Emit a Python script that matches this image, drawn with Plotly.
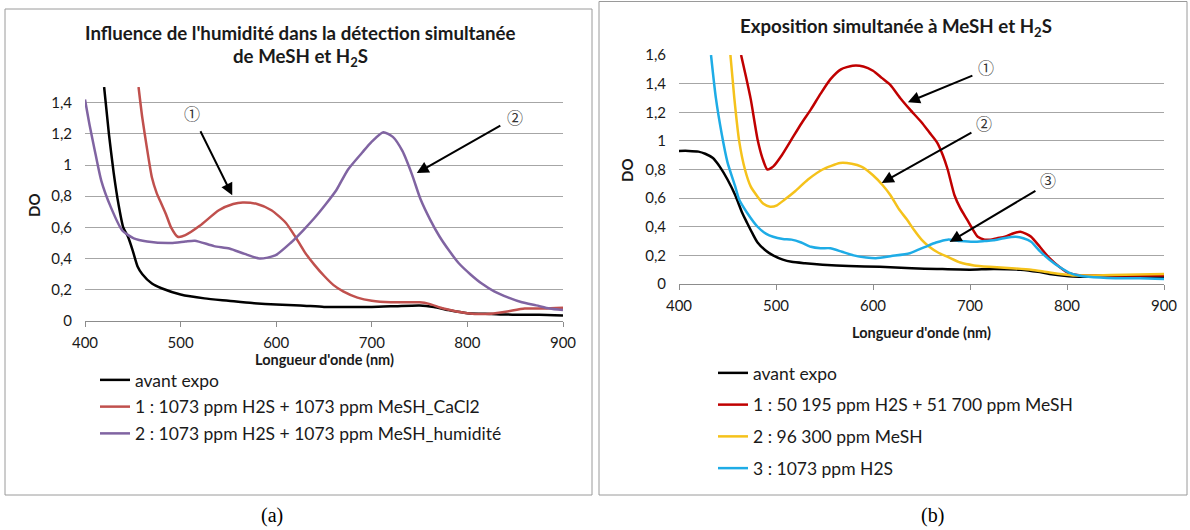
import plotly.graph_objects as go

# ---------------- Panel (a) data ----------------
a_black_x = [420, 425, 430, 435, 440, 445, 450, 455, 460, 470, 480, 500, 525, 550, 575, 600, 625, 650, 675, 700, 725, 750, 765, 780, 800, 825, 850, 875, 900]
a_black_y = [1.50, 1.20, 0.95, 0.75, 0.60, 0.54, 0.45, 0.35, 0.30, 0.24, 0.21, 0.17, 0.145, 0.13, 0.115, 0.105, 0.10, 0.09, 0.09, 0.09, 0.095, 0.10, 0.09, 0.07, 0.05, 0.045, 0.04, 0.04, 0.035]

a_red_x = [456, 460, 465, 470, 475, 480, 485, 490, 497, 505, 520, 540, 555, 565, 580, 595, 610, 620, 630, 640, 650, 660, 670, 685, 700, 720, 740, 750, 760, 775, 800, 820, 840, 860, 880, 900]
a_red_y = [1.50, 1.30, 1.10, 0.92, 0.82, 0.75, 0.68, 0.60, 0.54, 0.55, 0.61, 0.71, 0.75, 0.76, 0.75, 0.71, 0.63, 0.54, 0.44, 0.36, 0.29, 0.23, 0.19, 0.15, 0.13, 0.12, 0.12, 0.12, 0.11, 0.08, 0.05, 0.045, 0.06, 0.08, 0.08, 0.085]

a_purple_x = [400, 405, 410, 417, 427, 439, 451, 465, 490, 505, 515, 535, 551, 567, 583, 599, 615, 628, 640, 652, 663, 675, 690, 700, 712, 722, 732, 742, 751, 761, 771, 781, 791, 803, 815, 828, 843, 857, 872, 886, 900]
a_purple_y = [1.42, 1.25, 1.10, 0.90, 0.73, 0.58, 0.53, 0.51, 0.50, 0.51, 0.515, 0.48, 0.465, 0.43, 0.40, 0.42, 0.50, 0.58, 0.66, 0.75, 0.84, 0.97, 1.08, 1.15, 1.21, 1.18, 1.09, 0.94, 0.78, 0.65, 0.54, 0.45, 0.37, 0.30, 0.24, 0.19, 0.15, 0.12, 0.10, 0.08, 0.07]

a_names = ["avant expo",
           "1 : 1073 ppm H2S + 1073 ppm MeSH_CaCl2",
           "2 : 1073 ppm H2S + 1073 ppm MeSH_humidité"]

# ---------------- Panel (b) data ----------------
b_black_x = [400, 410, 420, 427, 435, 442, 450, 458, 465, 470, 476, 481, 490, 497, 507, 516, 530, 548, 575, 607, 640, 666, 700, 724, 752, 770, 782, 802, 830, 860, 900]
b_black_y = [0.93, 0.93, 0.925, 0.91, 0.88, 0.82, 0.73, 0.62, 0.50, 0.43, 0.35, 0.29, 0.23, 0.20, 0.17, 0.155, 0.145, 0.135, 0.125, 0.12, 0.11, 0.105, 0.10, 0.105, 0.10, 0.085, 0.07, 0.055, 0.05, 0.05, 0.05]

b_red_x = [464, 469, 474, 481, 486, 491, 497, 506, 516, 526, 536, 546, 556, 567, 579, 590, 600, 609, 618, 628, 638, 650, 658, 666, 672, 677, 684, 690, 697, 703, 708, 715, 721, 728, 736, 745, 752, 758, 763, 772, 782, 792, 802, 815, 850, 900]
b_red_y = [1.60, 1.45, 1.29, 1.01, 0.88, 0.80, 0.82, 0.90, 1.01, 1.12, 1.22, 1.33, 1.43, 1.50, 1.525, 1.52, 1.49, 1.44, 1.39, 1.30, 1.22, 1.13, 1.06, 0.99, 0.90, 0.80, 0.62, 0.53, 0.45, 0.38, 0.33, 0.31, 0.31, 0.32, 0.33, 0.355, 0.365, 0.35, 0.33, 0.26, 0.18, 0.12, 0.075, 0.06, 0.06, 0.06]

b_yellow_x = [453, 457, 462, 468, 474, 481, 487, 494, 501, 509, 520, 533, 548, 566, 578, 588, 600, 610, 618, 627, 635, 642, 650, 658, 667, 677, 690, 704, 720, 743, 763, 782, 806, 830, 860, 900]
b_yellow_y = [1.60, 1.30, 1.00, 0.80, 0.68, 0.61, 0.56, 0.54, 0.55, 0.59, 0.65, 0.73, 0.80, 0.845, 0.84, 0.82, 0.76, 0.69, 0.62, 0.52, 0.45, 0.38, 0.31, 0.26, 0.22, 0.19, 0.15, 0.13, 0.12, 0.11, 0.10, 0.08, 0.06, 0.06, 0.065, 0.07]

b_blue_x = [433, 438, 444, 450, 458, 462, 470, 481, 490, 497, 507, 516, 526, 536, 546, 556, 568, 580, 593, 603, 619, 638, 654, 665, 677, 690, 704, 715, 724, 735, 747, 755, 763, 772, 782, 792, 802, 812, 822, 850, 875, 900]
b_blue_y = [1.60, 1.30, 1.05, 0.85, 0.68, 0.59, 0.50, 0.40, 0.35, 0.33, 0.315, 0.31, 0.29, 0.26, 0.25, 0.25, 0.225, 0.20, 0.185, 0.18, 0.195, 0.215, 0.26, 0.29, 0.31, 0.30, 0.295, 0.30, 0.305, 0.32, 0.33, 0.32, 0.295, 0.23, 0.17, 0.12, 0.08, 0.06, 0.05, 0.04, 0.04, 0.035]

b_names = ["avant expo",
           "1 : 50 195 ppm H2S + 51 700 ppm MeSH",
           "2 : 96 300 ppm MeSH",
           "3 : 1073 ppm H2S"]

x_ticks = [400, 500, 600, 700, 800, 900]

FONT = "Lato"
TXT = "#1a1a1a"
GRID = "#a6a6a6"
W, H = 1190, 530

def px(xp):
    return xp / W

def py(yp):
    return 1 - yp / H

fig = go.Figure()

a_series = [(a_black_x, a_black_y, "#000000"),
            (a_red_x, a_red_y, "#c0504d"),
            (a_purple_x, a_purple_y, "#8064a2")]
for i, ((xs, ys, col), nm) in enumerate(zip(a_series, a_names)):
    fig.add_trace(go.Scatter(x=xs, y=ys, mode="lines", name=nm,
                             line=dict(color=col, width=2.5, shape="spline", smoothing=0.6),
                             xaxis="x", yaxis="y", legend="legend",
                             legendgroup="a%d" % i))

b_series = [(b_black_x, b_black_y, "#000000"),
            (b_red_x, b_red_y, "#c00000"),
            (b_yellow_x, b_yellow_y, "#f5c21b"),
            (b_blue_x, b_blue_y, "#1eace6")]
for i, ((xs, ys, col), nm) in enumerate(zip(b_series, b_names)):
    fig.add_trace(go.Scatter(x=xs, y=ys, mode="lines", name=nm,
                             line=dict(color=col, width=2.5, shape="spline", smoothing=0.6),
                             xaxis="x2", yaxis="y2", legend="legend2",
                             legendgroup="b%d" % i))

xax = dict(range=[400, 900], tickvals=x_ticks, showgrid=False, showline=True,
           linecolor="#8c8c8c", linewidth=1, ticks="outside", ticklen=5,
           tickcolor="#8c8c8c", tickfont=dict(family=FONT, size=15, color=TXT),
           zeroline=False, fixedrange=True, automargin=False, ticklabelstandoff=3)
yax = dict(dtick=0.2, showgrid=True, gridcolor=GRID, gridwidth=1, showline=False,
           ticks="", tickfont=dict(family=FONT, size=15, color=TXT), zeroline=False,
           ticklabelstandoff=12, fixedrange=True, automargin=False)

fig.update_layout(
    width=W, height=H, margin=dict(l=0, r=0, t=0, b=0, autoexpand=False),
    paper_bgcolor="white", plot_bgcolor="white",
    separators=", ",
    xaxis=dict(xax, domain=[px(85), px(563)], anchor="y"),
    yaxis=dict(yax, range=[0, 1.5], domain=[py(321), py(87)], anchor="x"),
    xaxis2=dict(xax, domain=[px(679), px(1164)], anchor="y2"),
    yaxis2=dict(yax, range=[0, 1.6], domain=[py(284), py(55)], anchor="x2"),
    legend=dict(x=px(95), y=py(362), xanchor="left", yanchor="top",
                font=dict(family=FONT, size=17.5, color=TXT), bgcolor="rgba(0,0,0,0)",
                tracegroupgap=1, itemwidth=30),
    legend2=dict(x=px(713), y=py(355), xanchor="left", yanchor="top",
                 font=dict(family=FONT, size=17.5, color=TXT), bgcolor="rgba(0,0,0,0)",
                 tracegroupgap=6, itemwidth=30),
    showlegend=True,
)

# panel borders
fig.add_shape(type="rect", xref="paper", yref="paper", x0=px(5), x1=px(592), y0=py(495), y1=py(9),
              line=dict(color="#9a9a9a", width=1), fillcolor="rgba(0,0,0,0)", layer="below")
fig.add_shape(type="rect", xref="paper", yref="paper", x0=px(599), x1=px(1187), y0=py(495), y1=py(1.5),
              line=dict(color="#9a9a9a", width=1), fillcolor="rgba(0,0,0,0)", layer="below")


def note(text, xp, yp, size, family=FONT, bold=False, angle=0, color=TXT):
    return dict(text=("<b>%s</b>" % text) if bold else text, x=px(xp), y=py(yp),
                xref="paper", yref="paper", showarrow=False, textangle=angle,
                xanchor="center", yanchor="middle",
                font=dict(family=family, size=size, color=color))


ann = []
# titles
ann.append(note("Influence de l'humidité dans la détection simultanée", 300, 33, 18.7, bold=True))
ann.append(note("de MeSH et H<sub>2</sub>S", 300, 58, 18.7, bold=True))
ann.append(note("Exposition simultanée à MeSH et H<sub>2</sub>S", 896, 28, 18.7, bold=True))
# axis titles
ann.append(note("Longueur d'onde (nm)", 324, 359, 14.5, bold=True))
ann.append(note("Longueur d'onde (nm)", 921, 332, 14.5, bold=True))
ann.append(note("DO", 34, 205, 15, bold=True, angle=-90))
ann.append(note("DO", 627, 170, 15, bold=True, angle=-90))
# captions
ann.append(note("(a)", 272, 515, 20, family="Liberation Serif", color="#000000"))
ann.append(note("(b)", 932, 515, 20, family="Liberation Serif", color="#000000"))

# circled labels and arrows (data coordinates)
circ_font = dict(family="Noto Sans CJK JP", size=16, color="#333333")
labels = [("①", 512, 1.335, "x", "y"), ("②", 850, 1.31, "x", "y"),
          ("①", 716, 1.517, "x2", "y2"), ("②", 714, 1.126, "x2", "y2"), ("③", 780, 0.727, "x2", "y2")]
for t, xx, yy, xr, yr in labels:
    ann.append(dict(text=t, x=xx, y=yy, xref=xr, yref=yr, showarrow=False, font=circ_font,
                    xanchor="center", yanchor="middle"))

arrows = [(520, 1.226, 554, 0.806, "x", "y"), (836, 1.258, 747, 0.948, "x", "y"),
          (704, 1.46, 636, 1.27, "x2", "y2"), (703, 1.063, 609, 0.706, "x2", "y2"),
          (769, 0.657, 679, 0.294, "x2", "y2")]
for ax_, ay_, hx, hy, xr, yr in arrows:
    ann.append(dict(text="", x=hx, y=hy, ax=ax_, ay=ay_, xref=xr, yref=yr, axref=xr, ayref=yr,
                    showarrow=True, arrowhead=2, arrowsize=1.2, arrowwidth=2, arrowcolor="#000000"))

fig.update_layout(annotations=ann)
# remove the browser's default 8px page margin so the figure sits at the window origin
fig.write_html("out.html", config={"displayModeBar": False},
               post_script="document.body.style.margin='0';")
